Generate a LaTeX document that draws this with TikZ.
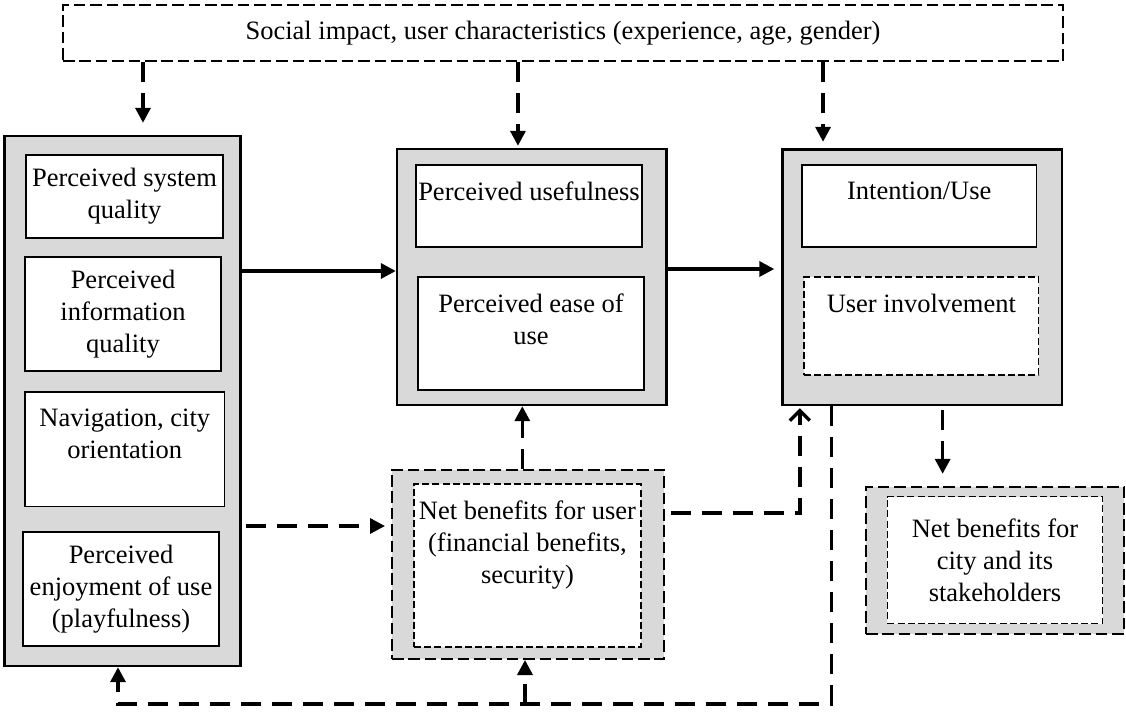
\documentclass[tikz,border=0pt]{standalone}
\usepackage{fontspec}
\setmainfont{Liberation Serif}
\usetikzlibrary{positioning,arrows.meta}
\definecolor{panelgray}{HTML}{D9D9D9}
\tikzset{panel/.style={draw,line width=1.2pt,fill=panelgray,inner sep=0pt},
  cell/.style={draw,line width=0.8pt,fill=white,align=center,inner sep=0pt},
  dpanel/.style={panel,line width=1pt,dash pattern=on 5.8pt off 2.4pt},
  dcell/.style={cell,line width=0.7pt,dash pattern=on 3.5pt off 1.6pt},
  toptext/.style={label={[anchor=north,yshift=-8.7pt,align=center,inner sep=0pt]north:#1}},
  flow/.style={line width=1.7pt,-{Triangle[length=7.5pt,width=7.5pt]}},
  dflow/.style={flow,dash pattern=on 10pt off 5.5pt}}

\begin{document}
\begin{tikzpicture}[x=0.5pt,y=-0.5pt,font=\fontsize{13.25}{15.9}\selectfont]
\useasboundingbox (0,0) rectangle (1126,712);
% influences
\node[dpanel,fill=white,minimum width=500pt,minimum height=28pt] (soc) at (563,33) {Social impact, user characteristics (experience, age, gender)};
% quality factors
\node[panel,minimum width=118pt,minimum height=265pt] (qual) at (122.5,401) {};
\node[cell,minimum width=98.5pt,minimum height=41.5pt] (sys) at (124.5,196.5) {Perceived system\\quality};
\node[cell,minimum width=98pt,minimum height=57pt] (info) at (123,314) {Perceived\\information\\quality};
\node[cell,minimum width=99.75pt,minimum height=57.25pt,toptext={Navigation, city\\orientation}] (nav) at (124.75,449.25) {};
\node[cell,minimum width=98pt,minimum height=57pt] (joy) at (121,589) {Perceived\\enjoyment of use\\(playfulness)};
% acceptance
\node[panel,minimum width=134.75pt,minimum height=128pt] (tam) at (531.75,277) {};
\node[cell,minimum width=113pt,minimum height=41pt,toptext={Perceived usefulness}] (pu) at (529,206) {};
\node[cell,minimum width=113pt,minimum height=56.5pt,toptext={Perceived ease of\\use}] (peou) at (531,333.5) {};
% use
\node[panel,minimum width=139.75pt,minimum height=127.75pt] (use) at (922.25,277.25) {};
\node[cell,minimum width=117.25pt,minimum height=41pt,toptext={Intention/Use}] (int) at (919.25,206) {};
\node[dcell,minimum width=117.35pt,minimum height=49pt,toptext={User involvement}] (inv) at (921.35,326) {};
% benefits
\node[dpanel,minimum width=135.8pt,minimum height=94.7pt] (nbu) at (527.8,564.3) {};
\node[dcell,minimum width=113.5pt,minimum height=81.5pt,toptext={Net benefits for user\\(financial benefits,\\security)}] (nbutxt) at (527.5,565.5) {};
\node[dpanel,minimum width=129pt,minimum height=73.5pt] (nbc) at (995,560.3) {};
\node[dcell,minimum width=107.6pt,minimum height=63.5pt] (nbctxt) at (995,560) {Net benefits for\\city and its\\stakeholders};

\draw[dflow,shorten >=6pt] ([xshift=10.25pt]qual.north |- soc.south) -- ([xshift=10.25pt]qual.north);
\draw[dflow,shorten >=1pt] ([xshift=-6.9pt]tam.north |- soc.south) -- ([xshift=-6.9pt]tam.north);
\draw[dflow,shorten >=3.25pt] ([xshift=-49.6pt]use.north |- soc.south) -- ([xshift=-49.6pt]use.north);
\draw[flow] ([yshift=65pt]qual.east) -- ([yshift=65pt]qual.east -| tam.west);
\draw[flow,shorten >=3.5pt] ([yshift=4pt]tam.east) -- ([yshift=4pt]tam.east -| use.west);
\draw[dflow,shorten <=2.25pt,shorten >=3pt] ([yshift=-62.5pt]qual.east) -- ([yshift=-62.5pt]qual.east -| nbu.west);
\draw[dflow] ([xshift=-2.75pt]nbu.north) -- ([xshift=-2.75pt]nbu.north |- tam.south);
\draw[dflow,-{Straight Barb[length=5pt,width=10pt]},shorten <=3pt,shorten >=1pt] ([yshift=25.65pt]nbu.east) -| ([xshift=9.25pt]use.south west);
% feedback
\coordinate (low) at (0,704);
\draw[dflow] ([xshift=25pt]use.south west) |- ([xshift=-2.25pt]qual.south |- low) -- ([xshift=-2.25pt]qual.south);
\draw[dflow] ([xshift=-1.4pt]nbu.south |- low) -- ([xshift=-1.4pt]nbu.south);
\draw[dflow,shorten <=2pt,shorten >=6pt] ([xshift=10.2pt]use.south) -- ([xshift=10.2pt]use.south |- nbc.north);
\end{tikzpicture}
\end{document}
